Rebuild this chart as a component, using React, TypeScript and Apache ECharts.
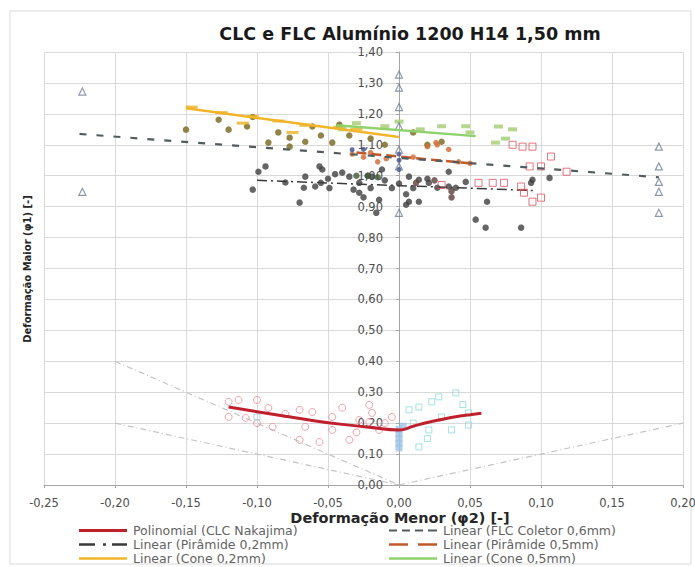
import React, { useEffect, useRef } from "react";
import * as echarts from "echarts";

const xTicks = { min: -0.25, max: 0.2, interval: 0.05 };
const yTicks = { min: 0, max: 1.4, interval: 0.1 };

const flcColetorPts = [
  [-0.223, 1.272], [-0.223, 0.948], [0, 1.327], [0, 1.285], [0, 1.222], [0, 1.16],
  [0, 1.084], [0, 1.03], [0, 0.88], [0.183, 1.094], [0.183, 1.03], [0.183, 0.98],
  [0.183, 0.948], [0.183, 0.88],
];
const flcColetorTrend = [[-0.225, 1.135], [0.183, 0.995]];

const piramide02Pts = [
  [-0.103, 0.955], [-0.094, 1.03], [-0.099, 1.013], [-0.08, 0.978], [-0.07, 0.913],
  [-0.067, 0.961], [-0.059, 0.965], [-0.054, 1.02], [-0.066, 0.997], [-0.055, 0.977],
  [-0.04, 1.01], [-0.035, 0.997], [-0.032, 0.955], [-0.028, 0.945], [-0.028, 0.977],
  [-0.019, 0.997], [-0.014, 0.922], [-0.022, 1.0], [-0.01, 0.985], [-0.005, 0.96],
  [0.007, 0.916], [0.014, 0.916], [0.007, 0.997], [0.014, 0.987], [0.021, 0.977],
  [0.027, 0.961], [0.035, 1.013], [0.035, 0.965], [0.04, 0.961], [0.054, 0.858],
  [0.061, 0.832], [0.062, 0.916], [0.086, 0.832], [0.094, 0.987], [0.106, 0.993],
  [0.093, 0.977], [-0.045, 1.005], [-0.05, 0.99], [-0.02, 0.96], [0.0, 0.975],
  [0.01, 0.96], [0.02, 0.99], [-0.012, 1.02], [0.005, 0.94], [0.047, 0.98],
  [-0.025, 0.93], [-0.016, 0.88], [0.005, 0.906], [-0.056, 1.03], [-0.049, 0.96],
];
const piramide02Trend = [[-0.1, 0.985], [0.095, 0.952]];

const maroonPts = [[0.012, 0.977], [0.037, 0.95], [0.037, 0.93], [0.025, 0.985]];
const darkGreenPts = [[-0.03, 1.0], [-0.022, 1.0], [-0.015, 0.995]];

const cone02Pts = [
  [-0.15, 1.149], [-0.127, 1.181], [-0.12, 1.149], [-0.107, 1.159], [-0.103, 1.19],
  [-0.092, 1.107], [-0.077, 1.123], [-0.077, 1.094], [-0.066, 1.11], [-0.061, 1.159],
  [-0.047, 1.107], [-0.042, 1.159], [-0.035, 1.13], [-0.085, 1.14], [-0.02, 1.12],
  [-0.01, 1.1], [0.01, 1.14], [0.02, 1.1], [0.03, 1.11], [-0.055, 1.13], [-0.042, 1.165],
];
const cone02Dashes = [
  [-0.146, 1.222], [-0.125, 1.204], [-0.103, 1.192], [-0.085, 1.177], [-0.066, 1.163],
  [-0.042, 1.157], [-0.11, 1.17], [-0.075, 1.14], [-0.03, 1.15],
];
const cone02Trend = [[-0.15, 1.218], [0.0, 1.125]];

const piramide05Pts = [
  [-0.033, 1.07], [-0.025, 1.06], [-0.015, 1.045], [-0.02, 1.075], [0.02, 1.094],
  [0.027, 1.1], [0.026, 1.107], [0.035, 1.085], [0.042, 1.045], [0.05, 1.04], [0.01, 1.06],
  [-0.009, 1.055],
];
const piramide05Trend = [[-0.03, 1.075], [0.05, 1.04]];

const navyPts = [[-0.033, 1.084], [-0.025, 1.085], [0.0, 1.07], [0.0, 1.05], [0.0, 1.02]];

const cone05Pts = [
  [-0.03, 1.17], [-0.01, 1.16], [0.0, 1.175], [0.015, 1.15], [0.03, 1.16],
  [0.047, 1.16], [0.05, 1.14], [-0.04, 1.15], [0.07, 1.159], [0.068, 1.107],
  [0.075, 1.12], [0.08, 1.15],
];
const cone05Trend = [[-0.044, 1.163], [0.054, 1.128]];

const redSquarePts = [
  [0.087, 1.094], [0.094, 1.094], [0.107, 1.062], [0.118, 1.013], [0.092, 1.03],
  [0.1, 1.03], [0.056, 0.977], [0.066, 0.977], [0.074, 0.977], [0.086, 0.965],
  [0.088, 0.945], [0.094, 0.916], [0.1, 0.929], [0.03, 0.97], [0.08, 1.1],
];

const clcNakajimaPts = [
  [-0.12, 0.269], [-0.113, 0.275], [-0.1, 0.275], [-0.12, 0.22], [-0.108, 0.217],
  [-0.092, 0.249], [-0.089, 0.188], [-0.07, 0.243], [-0.061, 0.236], [-0.066, 0.188],
  [-0.07, 0.146], [-0.056, 0.139], [-0.047, 0.22], [-0.047, 0.178], [-0.035, 0.146],
  [-0.021, 0.204], [-0.019, 0.233], [-0.014, 0.178], [-0.021, 0.259], [-0.028, 0.21],
  [-0.08, 0.23], [-0.1, 0.2], [-0.03, 0.17], [-0.01, 0.2], [-0.005, 0.22], [-0.04, 0.25],
];
const clcNakajimaPoly = [
  [-0.12, 0.252], [-0.1, 0.237], [-0.08, 0.222], [-0.06, 0.208], [-0.04, 0.196],
  [-0.02, 0.186], [0, 0.178], [0.01, 0.19], [0.02, 0.202], [0.03, 0.212],
  [0.04, 0.221], [0.05, 0.227], [0.058, 0.232],
];

const cyanPts = [
  [0.014, 0.252], [0.007, 0.243], [0.023, 0.269], [0.04, 0.298], [0.028, 0.285],
  [0.049, 0.233], [0.037, 0.178], [0.021, 0.178], [0.014, 0.123], [0.049, 0.194],
  [0.03, 0.22], [0.01, 0.2], [0.045, 0.26], [-0.1, 0.22], [0.02, 0.15],
];
const bluePts = [[0, 0.12], [0, 0.135], [0, 0.15], [0, 0.165], [0, 0.18], [0.003, 0.19]];

const pathUniaxial = [[-0.2, 0.4], [0, 0]];
const pathShear = [[-0.2, 0.2], [0, 0]];
const pathBiaxial = [[0, 0], [0.2, 0.2]];

const nameCLC = "Polinomial (CLC Nakajima)";
const nameFLC = "Linear (FLC Coletor 0,6mm)";
const namePir02 = "Linear (Pirâmide 0,2mm)";
const namePir05 = "Linear (Pirâmide 0,5mm)";
const nameCone02 = "Linear (Cone 0,2mm)";
const nameCone05 = "Linear (Cone 0,5mm)";

const titleText = "CLC e FLC Alumínio 1200 H14 1,50 mm";
const xTitle = "Deformação Menor (φ2) [-]";
const yTitle = "Deformação Maior (φ1) [-]";

const FONT = "'DejaVu Sans', Verdana, sans-serif";

const ICON_SOLID3 = "path://M0,0H48V3H0Z";
const ICON_SOLID = "path://M0,0H48V2.5H0Z";
const ICON_DASH = "path://M0,0h8v2h-8zM13,0h8v2h-8zM26,0h8v2h-8zM39,0h9v2h-9z";
const ICON_DASHDOT = "path://M0,0h16v2.5h-16zM24,0h3v2.5h-3zM33,0h15v2.5h-15z";
const ICON_LONGDASH = "path://M0,0h19v2.5h-19zM29,0h19v2.5h-19z";

function fmt(v: number) {
  if (Math.abs(v) < 1e-9) return "0,00";
  return v.toFixed(2).replace(".", ",");
}

function scatter(data: number[][], opts: any) {
  return { type: "scatter", data, z: 3, ...opts };
}

function trend(name: string, data: number[][], color: string, width: number, dash: any, z = 4) {
  return {
    name,
    type: "line",
    data,
    symbol: "none",
    z,
    lineStyle: { color, width, type: dash },
    itemStyle: { color },
  };
}

function pathLine(data: number[][]) {
  return {
    type: "line",
    data,
    symbol: "none",
    z: 2,
    silent: true,
    lineStyle: { color: "#c4c4c4", width: 1.2, type: [6, 3, 1, 3] },
  };
}

function legendItem(name: string, icon: string, left: number, top: number) {
  return {
    data: [name],
    icon,
    left,
    top,
    padding: 0,
    itemWidth: 48,
    itemHeight: 10,
    itemGap: 0,
    selectedMode: false,
    textStyle: {
      fontSize: 12.5,
      lineHeight: 13,
      color: "#636363",
      fontFamily: FONT,
      padding: [0, 0, 0, 1],
    },
  };
}

export default function App() {
  const ref = useRef<HTMLDivElement>(null);
  useEffect(() => {
    document.body.style.margin = "0";
    const chart = echarts.init(ref.current!, null, { renderer: "svg" });
    chart.setOption({
      animation: false,
      backgroundColor: "#ffffff",
      textStyle: { fontFamily: FONT },
      grid: { left: 44, right: 12, top: 52, bottom: 82, containLabel: false, outerBoundsMode: "none" },
      legend: [
        legendItem(nameCLC, ICON_SOLID3, 79, 524),
        legendItem(namePir02, ICON_DASHDOT, 79, 538),
        legendItem(nameCone02, ICON_SOLID, 79, 552),
        legendItem(nameFLC, ICON_DASH, 389, 524),
        legendItem(namePir05, ICON_LONGDASH, 389, 538),
        legendItem(nameCone05, ICON_SOLID, 389, 552),
      ],
      xAxis: {
        type: "value",
        ...xTicks,
        axisLine: { show: true, onZero: false, lineStyle: { color: "#a6a6a6" } },
        axisTick: { show: true, length: 3, lineStyle: { color: "#a6a6a6" } },
        axisLabel: { formatter: fmt, fontSize: 11.5, color: "#4d4d4d", margin: 12, fontFamily: FONT },
        splitLine: { show: true, lineStyle: { color: "#d9d9d9" } },
      },
      yAxis: {
        type: "value",
        ...yTicks,
        position: "left",
        offset: -355,
        axisLine: { show: true, onZero: false, lineStyle: { color: "#a6a6a6" } },
        axisTick: { show: true, length: 3, lineStyle: { color: "#a6a6a6" } },
        axisLabel: { formatter: fmt, fontSize: 11.5, color: "#4d4d4d", margin: 16, fontFamily: FONT },
        splitLine: { show: true, lineStyle: { color: "#d9d9d9" } },
      },
      graphic: [
        {
          type: "rect",
          shape: { x: 10, y: 11, width: 681, height: 553 },
          style: { fill: "none", stroke: "#d9d9d9", lineWidth: 1 },
          silent: true,
          z: -10,
        },
        {
          type: "text",
          x: 410,
          y: 34,
          style: {
            text: titleText,
            font: `bold 17.5px ${FONT}`,
            fill: "#1a1a1a",
            textAlign: "center",
            textVerticalAlign: "middle",
          },
        },
        {
          type: "text",
          x: 400,
          y: 518,
          style: {
            text: xTitle,
            font: `bold 14.5px ${FONT}`,
            fill: "#262626",
            textAlign: "center",
            textVerticalAlign: "middle",
          },
        },
        {
          type: "text",
          x: 27,
          y: 269,
          rotation: Math.PI / 2,
          style: {
            text: yTitle,
            font: `bold 10px ${FONT}`,
            fill: "#262626",
            textAlign: "center",
            textVerticalAlign: "middle",
          },
        },
      ],
      series: [
        pathLine(pathUniaxial),
        pathLine(pathShear),
        pathLine(pathBiaxial),
        trend(namePir02, piramide02Trend, "#3a3a3a", 1.5, [10, 4, 2, 4], 2),
        scatter(cone02Pts, { symbol: "circle", symbolSize: 6.5, itemStyle: { color: "#7d6f28", opacity: 0.85 } }),
        scatter(cone02Dashes, { symbol: "rect", symbolSize: [12, 3], itemStyle: { color: "#e8b020" } }),
        scatter(piramide02Pts, { symbol: "circle", symbolSize: 6.5, itemStyle: { color: "#3f3f3f" } }),
        scatter(maroonPts, { symbol: "circle", symbolSize: 6.5, itemStyle: { color: "#5e3c3c" } }),
        scatter(darkGreenPts, { symbol: "circle", symbolSize: 6.5, itemStyle: { color: "#3d5a3a" } }),
        scatter(cone05Pts, { symbol: "rect", symbolSize: [9, 4], itemStyle: { color: "#a9cf7a", opacity: 0.85 } }),
        scatter(piramide05Pts, { symbol: "circle", symbolSize: 5.5, itemStyle: { color: "#d2703a", opacity: 0.85 } }),
        scatter(navyPts, { symbol: "circle", symbolSize: 5, itemStyle: { color: "#3f4a8c" } }),
        scatter(redSquarePts, {
          symbol: "rect", symbolSize: 7,
          itemStyle: { color: "rgba(255,255,255,0)", borderColor: "#e0505e", borderWidth: 1 },
        }),
        scatter(flcColetorPts, {
          symbol: "triangle", symbolSize: 7,
          itemStyle: { color: "rgba(255,255,255,0)", borderColor: "#6f7f98", borderWidth: 1.2 },
        }),
        scatter(clcNakajimaPts, {
          symbol: "circle", symbolSize: 7,
          itemStyle: { color: "rgba(255,255,255,0)", borderColor: "#f08a96", borderWidth: 1 },
        }),
        scatter(cyanPts, {
          symbol: "rect", symbolSize: 6,
          itemStyle: { color: "rgba(255,255,255,0)", borderColor: "#8fdada", borderWidth: 1 },
        }),
        scatter(bluePts, { symbol: "rect", symbolSize: 7, itemStyle: { color: "#9dc3e6" } }),
        trend(nameCone02, cone02Trend, "#f2b52a", 2.5, "solid"),
        trend(nameCone05, cone05Trend, "#8fd16a", 2.5, "solid"),
        trend(namePir05, piramide05Trend, "#c0582a", 2.5, [10, 5]),
        trend(nameFLC, flcColetorTrend, "#525c5e", 2.2, [7, 10]),
        { ...trend(nameCLC, clcNakajimaPoly, "#c0202c", 3, "solid"), smooth: true, z: 5 },
      ],
    });
    return () => chart.dispose();
  }, []);
  return <div ref={ref} style={{ width: 695, height: 567 }} />;
}
